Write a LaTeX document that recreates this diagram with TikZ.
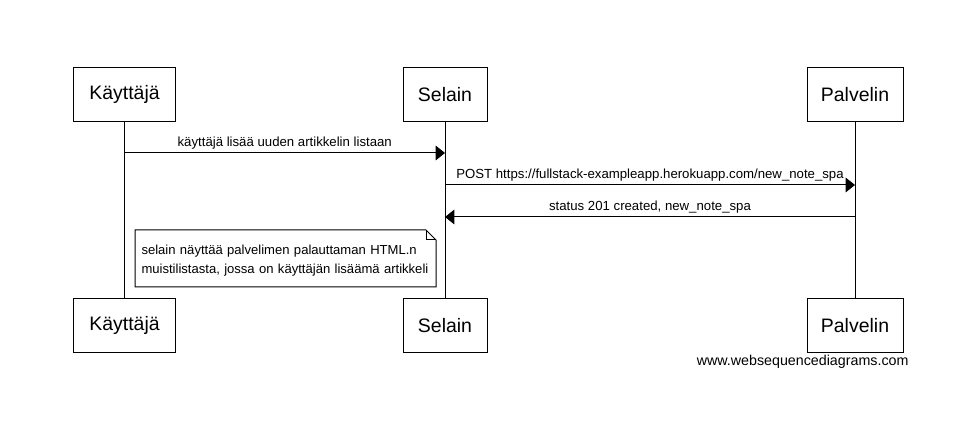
\documentclass[tikz,border=0pt]{standalone}
\usepackage{fontspec}
\setmainfont{Liberation Sans}
\usetikzlibrary{arrows.meta}
\begin{document}
\begin{tikzpicture}[x=0.75pt, y=-0.75pt, line width=0.75pt,
  actor/.style={draw, rectangle, minimum height=40.5pt, minimum width=#1, inner sep=0pt, font=\fontsize{14.6}{17}\selectfont},
  msg/.style={-{Triangle[length=7pt,width=11pt]}},
  msglabel/.style={font=\fontsize{9.9}{12}\selectfont, inner sep=0pt}]
 \useasboundingbox (0,0) rectangle (963,448);
 % osallistujat ylhaalla ja alhaalla
 \node[actor=76.5pt] (K) at (124.5,94.5) {Käyttäjä};
 \node[actor=63pt] (S) at (445,94.5) {Selain};
 \node[actor=72pt] (P) at (855,94.5) {Palvelin};
 \node[actor=76.5pt] (K2) at (124.5,325.5) {Käyttäjä};
 \node[actor=63pt] (S2) at (445,325.5) {Selain};
 \node[actor=72pt] (P2) at (855,325.5) {Palvelin};
 \draw (K) -- (K2);
 \draw (S) -- (S2);
 \draw (P) -- (P2);

 % viestit
 \coordinate (k1) at (124.5,153);
 \coordinate (s1) at (445,153);
 \coordinate (s2) at (445,185);
 \coordinate (p2) at (855,185);
 \coordinate (p3) at (855,217);
 \coordinate (s3) at (445,217);
 \draw[msg] (k1) -- node[msglabel, above=2.5pt] {käyttäjä lisää uuden artikkelin listaan} (s1);
 \draw[msg] (s2) -- node[msglabel, above=2.5pt] {POST https://fullstack-exampleapp.herokuapp.com/new\_note\_spa} (p2);
 \draw[msg] (p3) -- node[msglabel, above=2.5pt] {status 201 created, new\_note\_spa} (s3);

 % huomautus
 \node[msglabel, anchor=north west, inner xsep=4.5pt, inner ysep=5.25pt, text height=12.5pt, text depth=19pt, text width=216pt, align=left, font=\fontsize{9.8}{14.25}\selectfont] (note) at (135,230) {\mbox{selain näyttää palvelimen palauttaman HTML.n}\\\mbox{muistilistasta, jossa on käyttäjän lisäämä artikkeli}};
 \draw (note.north west) -- ([xshift=-7.5pt]note.north east) -- ([yshift=-7.5pt]note.north east) -- (note.south east) -- (note.south west) -- cycle;
 \draw ([xshift=-7.5pt]note.north east) |- ([yshift=-7.5pt]note.north east);

 \node[msglabel, anchor=east, font=\fontsize{10.7}{12}\selectfont] (www) at (909,362) {www.websequencediagrams.com};
\end{tikzpicture}
\end{document}
